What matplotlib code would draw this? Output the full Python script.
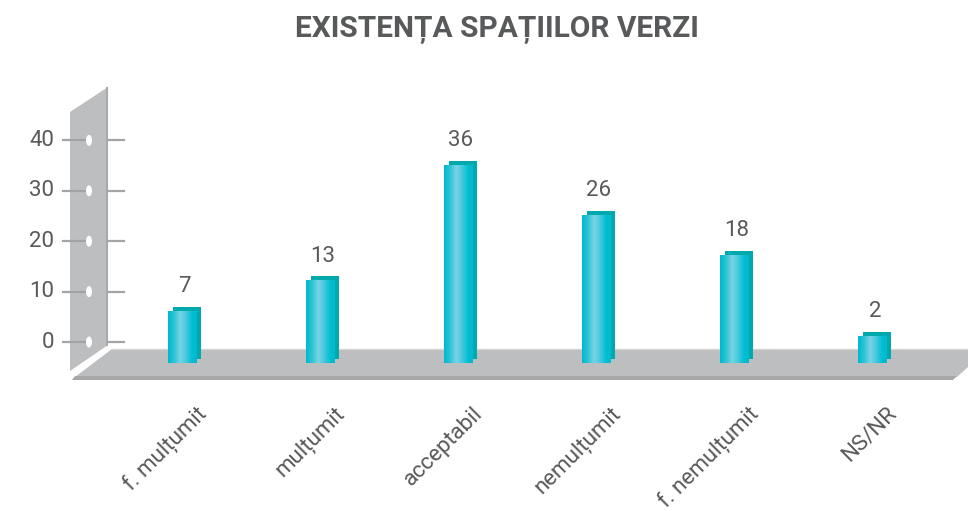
import matplotlib
matplotlib.use('Agg')
import matplotlib.pyplot as plt
import numpy as np
from matplotlib.patches import Polygon, Ellipse
from matplotlib.colors import LinearSegmentedColormap
from matplotlib.transforms import ScaledTranslation, blended_transform_factory

plt.rcParams['font.family'] = ['Roboto', 'DejaVu Sans']

title = 'EXISTENȚA SPAȚIILOR VERZI'
categories = ['f. mulțumit', 'mulțumit', 'acceptabil', 'nemulțumit', 'f. nemulțumit', 'NS/NR']
values = [7, 13, 36, 26, 18, 2]
yticks = [0, 10, 20, 30, 40]

txt = '#58595b'
W, H = 968, 511
fig = plt.figure(figsize=(W / 100, H / 100), dpi=100)

# background axes in pixel space for the wall / floor decoration
bg = fig.add_axes([0, 0, 1, 1])
bg.set_xlim(0, W)
bg.set_ylim(H, 0)
bg.axis('off')

bg.add_patch(Polygon([(70, 112), (108, 87), (108, 345), (70, 371)], closed=True,
                     fc='#bdbec0', ec='none'))
bg.plot([107, 107], [88, 345], color='#a9aaac', lw=1.5)
bg.add_patch(Polygon([(112, 349), (968, 349), (968, 367), (957, 377), (75, 377)],
                     closed=True, fc='#bdbec0', ec='none'))
bg.add_patch(Polygon([(75, 376), (957, 376), (953, 380), (72, 380)], closed=True,
                     fc='#a7a8aa', ec='none'))
bg.plot([112, 968], [349, 349], color='#d4d5d7', lw=1)

# data axes
ax = fig.add_axes([0, 0, 1, 1])
ax.patch.set_alpha(0)
ax.axis('off')

x = np.arange(len(categories))
base = -3.4
width = 0.205
back = ax.transData + ScaledTranslation(5 / 100, 4 / 100, fig.dpi_scale_trans)

# back (side) faces
back_bars = ax.bar(x, np.array(values) - base, bottom=base, width=width,
                   color='#00a9ae', zorder=2)
for b in back_bars:
    b.set_transform(back)

# front faces with a cylinder-like gradient
front_bars = ax.bar(x, np.array(values) - base, bottom=base, width=width,
                    color='#00bcd0', zorder=3)
cmap = LinearSegmentedColormap.from_list(
    'cyl', [(0, '#00b9cd'), (0.2, '#2cc3d6'), (0.42, '#78d3e4'),
            (0.6, '#4ecbdf'), (0.85, '#00bdd2'), (1, '#00bad0')])
grad = np.linspace(0, 1, 64).reshape(1, -1)
for b in front_bars:
    x0, y0 = b.get_x(), b.get_y()
    im = ax.imshow(grad, cmap=cmap, aspect='auto', zorder=4,
                   extent=[x0, x0 + b.get_width(), y0, y0 + b.get_height()])
    im.set_clip_path(b)
ax.set_xlim(-182 / 138, (W - 182) / 138)
ax.set_ylim(-(H - 346) / 5.04, 346 / 5.04)

# value labels
for xi, v in zip(x, values):
    ax.annotate(str(v), (xi, v), xytext=(2, 10), textcoords='offset points',
                ha='center', va='bottom', fontsize=16, color=txt, zorder=5)

# y ticks on the wall (drawn on the back plane)
tr = blended_transform_factory(bg.transData, back)
for t in yticks:
    ax.plot([63, 90], [t, t], color='#a3a4a6', lw=1.6, transform=tr, zorder=5)
    ax.plot([108, 124], [t, t], color='#a3a4a6', lw=1.6, transform=tr, zorder=5)
    ax.add_patch(Ellipse((89, t), 6, 11 / 5.04, transform=tr, fc='white',
                         ec='none', zorder=6))
    ax.text(54, t, str(t), transform=tr, ha='right', va='center',
            fontsize=16, color=txt)

# category labels
lab = blended_transform_factory(ax.transData, bg.transData)
for xi, c in zip(x, categories):
    ax.text(xi + 0.1, 403, c, transform=lab, rotation=45, rotation_mode='anchor',
            ha='right', va='top', fontsize=16, color=txt)

fig.text(497 / W, 1 - 30 / H, title, ha='center', va='center', fontsize=21.5,
         fontweight='bold', color=txt)

fig.savefig('out.png', dpi=100)
